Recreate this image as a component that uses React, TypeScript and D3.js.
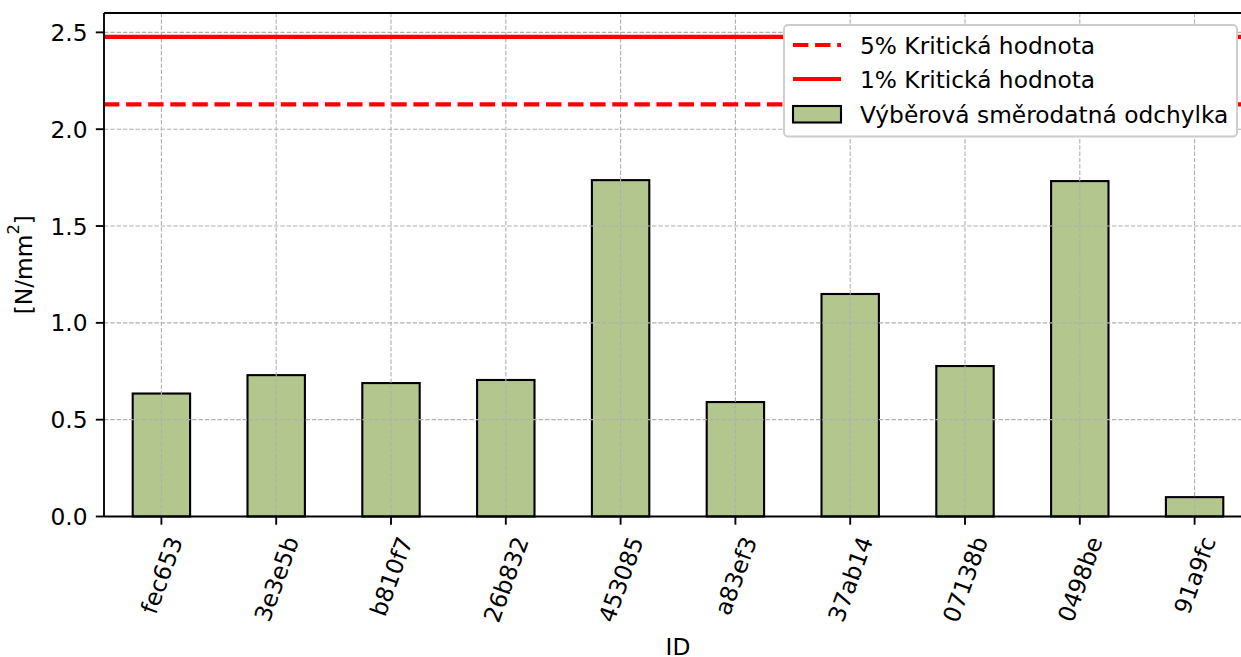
import React, { useEffect, useRef } from "react";
import * as d3 from "d3";

const categories = ["fec653", "3e3e5b", "b810f7", "26b832", "453085", "a83ef3", "37ab14", "07138b", "0498be", "91a9fc"];
const stdValues = [0.635, 0.730, 0.689, 0.705, 1.737, 0.591, 1.149, 0.777, 1.732, 0.100];
const crit5 = 2.128;
const crit1 = 2.477;
const yTicks = [0, 0.5, 1.0, 1.5, 2.0, 2.5];
const legendLabels = ["5% Kritická hodnota", "1% Kritická hodnota", "Výběrová směrodatná odchylka"];

const W = 1241;
const H = 657;
const FONT = "DejaVu Sans, sans-serif";
const FS = 23.3;
const BAR_COLOR = "#b3c68d";
const TICK = 8.2;
const PAD = 8.2;
const LW = 1.87;

export default function App() {
  const ref = useRef<SVGSVGElement | null>(null);

  useEffect(() => {
    const svg = d3.select(ref.current);
    svg.selectAll("*").remove();

    const left = 104;
    const right = 1252;
    const top = 13;
    const bottom = 516.5;

    const x = d3.scaleLinear().domain([-0.5, categories.length - 0.5]).range([left, right]);
    const y = d3.scaleLinear().domain([0, 2.6]).range([bottom, top]);

    const g = svg.append("g");

    // bars
    g.selectAll("rect.bar")
      .data(stdValues)
      .enter()
      .append("rect")
      .attr("x", (_d, i) => x(i - 0.25))
      .attr("width", x(0.25) - x(-0.25))
      .attr("y", (d) => y(d))
      .attr("height", (d) => y(0) - y(d))
      .attr("fill", BAR_COLOR)
      .attr("stroke", "#000")
      .attr("stroke-width", 2.1);

    // grid (drawn on top of bars)
    const grid = g.append("g").attr("stroke", "#b0b0b0").attr("stroke-width", 1.1).attr("stroke-dasharray", "4.4,1.9");
    yTicks.forEach((t) => {
      grid.append("line").attr("x1", left).attr("x2", right).attr("y1", y(t)).attr("y2", y(t));
    });
    categories.forEach((_c, i) => {
      grid.append("line").attr("x1", x(i)).attr("x2", x(i)).attr("y1", top).attr("y2", bottom);
    });

    // critical lines
    g.append("line")
      .attr("x1", left).attr("x2", right)
      .attr("y1", y(crit5)).attr("y2", y(crit5))
      .attr("stroke", "#ff0000").attr("stroke-width", 4.2)
      .attr("stroke-dasharray", "15.4,6.7");
    g.append("line")
      .attr("x1", left).attr("x2", right)
      .attr("y1", y(crit1)).attr("y2", y(crit1))
      .attr("stroke", "#ff0000").attr("stroke-width", 4.2);

    // spines
    const sp = g.append("g").attr("stroke", "#000").attr("stroke-width", LW).attr("fill", "none");
    sp.append("line").attr("x1", left).attr("x2", left).attr("y1", top).attr("y2", bottom);
    sp.append("line").attr("x1", left).attr("x2", right).attr("y1", bottom).attr("y2", bottom);
    sp.append("line").attr("x1", left).attr("x2", right).attr("y1", top).attr("y2", top);
    sp.append("line").attr("x1", right).attr("x2", right).attr("y1", top).attr("y2", bottom);

    // y ticks
    yTicks.forEach((t) => {
      g.append("line").attr("x1", left - TICK).attr("x2", left).attr("y1", y(t)).attr("y2", y(t))
        .attr("stroke", "#000").attr("stroke-width", LW);
      g.append("text").attr("x", left - TICK - PAD).attr("y", y(t))
        .attr("text-anchor", "end").attr("dominant-baseline", "central")
        .attr("font-family", FONT).attr("font-size", FS).attr("fill", "#000")
        .text(d3.format(".1f")(t));
    });

    // x ticks and rotated labels
    const angle = 70 * Math.PI / 180;
    categories.forEach((c, i) => {
      g.append("line").attr("x1", x(i)).attr("x2", x(i)).attr("y1", bottom).attr("y2", bottom + TICK)
        .attr("stroke", "#000").attr("stroke-width", LW);
      const t = g.append("text")
        .attr("text-anchor", "middle").attr("dominant-baseline", "central")
        .attr("font-family", FONT).attr("font-size", FS).attr("fill", "#000")
        .text(c);
      const w = (t.node() as SVGTextElement).getComputedTextLength();
      const h = FS * 1.17;
      const bh = w * Math.sin(angle) + h * Math.cos(angle);
      const cx = x(i);
      const cy = bottom + TICK + PAD + bh / 2;
      t.attr("transform", `translate(${cx},${cy}) rotate(-70)`);
    });

    // axis labels
    g.append("text").attr("x", (left + right) / 2).attr("y", 654.5)
      .attr("text-anchor", "middle")
      .attr("font-family", FONT).attr("font-size", FS).text("ID");
    const yl = g.append("text")
      .attr("transform", `translate(23,${(top + bottom) / 2}) rotate(-90)`)
      .attr("text-anchor", "middle").attr("dominant-baseline", "central")
      .attr("font-family", FONT).attr("font-size", FS);
    yl.append("tspan").text("[N/mm");
    yl.append("tspan").attr("baseline-shift", "super").attr("font-size", FS * 0.7).text("2");
    yl.append("tspan").text("]");

    // legend
    const lg = g.append("g");
    lg.append("rect").attr("x", 784).attr("y", 25).attr("width", 453).attr("height", 111.5)
      .attr("rx", 4).attr("ry", 4)
      .attr("fill", "#ffffff")
      .attr("stroke", "#cccccc").attr("stroke-width", LW);
    const rowY = [45, 79, 114];
    lg.append("line").attr("x1", 793).attr("x2", 841).attr("y1", rowY[0]).attr("y2", rowY[0])
      .attr("stroke", "#ff0000").attr("stroke-width", 4.2).attr("stroke-dasharray", "15.4,6.7");
    lg.append("line").attr("x1", 793).attr("x2", 841).attr("y1", rowY[1]).attr("y2", rowY[1])
      .attr("stroke", "#ff0000").attr("stroke-width", 4.2);
    lg.append("rect").attr("x", 793).attr("y", rowY[2] - 8).attr("width", 48).attr("height", 16.5)
      .attr("fill", BAR_COLOR).attr("stroke", "#000").attr("stroke-width", 2.1);
    legendLabels.forEach((l, i) => {
      lg.append("text").attr("x", 860).attr("y", rowY[i])
        .attr("dominant-baseline", "central")
        .attr("font-family", FONT).attr("font-size", FS).attr("fill", "#000")
        .text(l);
    });
  }, []);

  return (
    <svg
      ref={ref}
      width={W}
      height={H}
      style={{ position: "absolute", left: 0, top: 0, display: "block", background: "#fff" }}
    />
  );
}
